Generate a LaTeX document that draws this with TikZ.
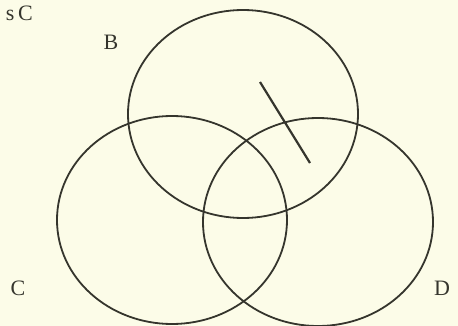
\documentclass[tikz,border=0pt]{standalone}
\usepackage{fontspec}
\setmainfont{Liberation Serif}
\usetikzlibrary{shapes.geometric}
\definecolor{paper}{HTML}{FCFCE8}
\definecolor{ink}{HTML}{35352D}
\begin{document}
\begin{tikzpicture}[x=1pt,y=-1pt,
  setring/.style={draw=ink,line width=1.8pt,ellipse,minimum width=230pt,minimum height=208pt,inner sep=0pt},
  lbl/.style={text=ink,font=\fontsize{22}{24}\selectfont,inner sep=0pt}]
\fill[paper] (0,0) rectangle (458,326);
\useasboundingbox (0,0) rectangle (458,326);
\node[setring] (B) at (243,114) {};
\node[setring] (C) at (172,220) {};
\node[setring] (D) at (318,222) {};
\coordinate (m1) at (260,82);
\coordinate (m2) at (310,163);
\draw[draw=ink,line width=2.2pt] (m1) -- (m2);
\node[lbl,anchor=east] (t) at (33,13) {s\,C};
\node[lbl] (lb) at (111,42) {B};
\node[lbl] (lc) at (18,288) {C};
\node[lbl] (ld) at (442,288) {D};
\end{tikzpicture}
\end{document}
